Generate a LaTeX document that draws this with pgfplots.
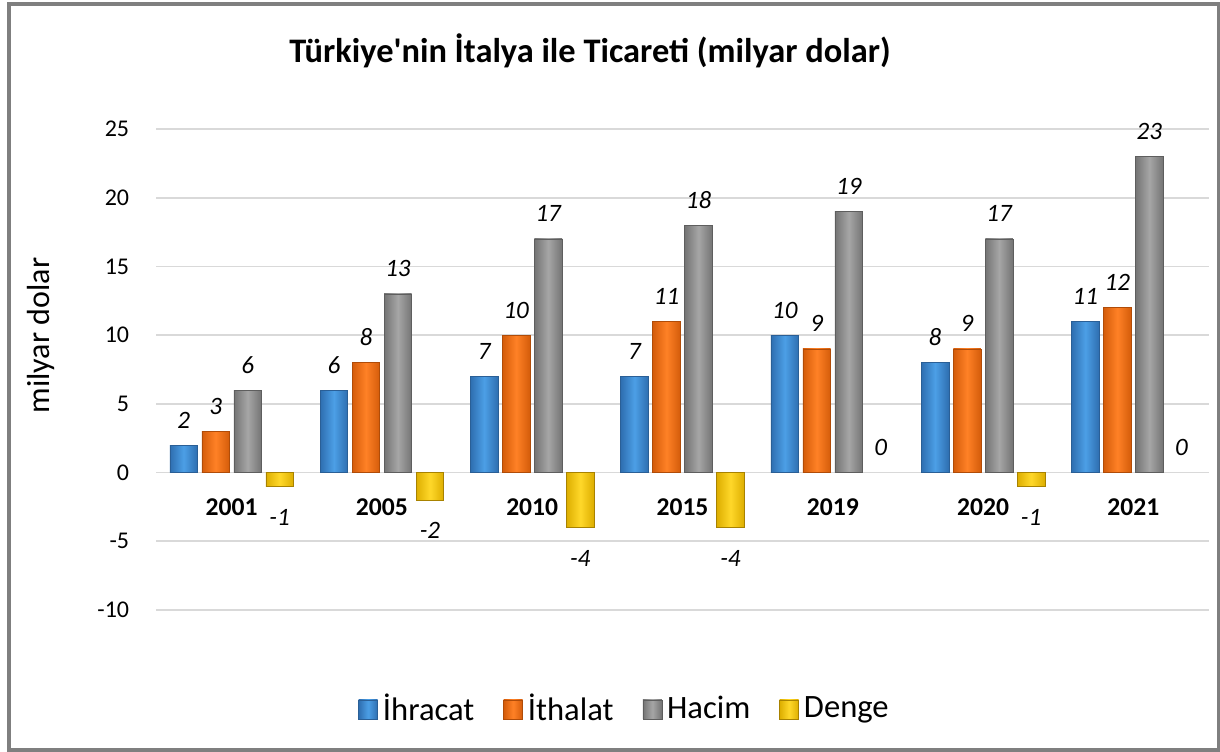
\documentclass[border=0pt]{standalone}
\usepackage{fontspec}
\setmainfont{Carlito}
\usepackage{pgfplots}
\pgfplotsset{compat=1.18}

\definecolor{blueM}{HTML}{4C9FE6}
\definecolor{blueE}{HTML}{2E6EB0}
\definecolor{blueD}{HTML}{2A5F96}
\definecolor{orM}{HTML}{FF8126}
\definecolor{orE}{HTML}{D45C0A}
\definecolor{orD}{HTML}{B04C08}
\definecolor{grM}{HTML}{A6A6A6}
\definecolor{grE}{HTML}{747474}
\definecolor{grD}{HTML}{5E5E5E}
\definecolor{yeM}{HTML}{FFD82A}
\definecolor{yeE}{HTML}{DDAE00}
\definecolor{yeD}{HTML}{A88200}
\definecolor{gridc}{HTML}{D9D9D9}
\definecolor{framec}{HTML}{7F7F7F}

\pgfplotsset{
  lblup/.style={nodes near coords, nodes near coords style={anchor=base, yshift=8.5pt}},
  lbldn/.style={nodes near coords, nodes near coords style={anchor=base, yshift=-19.4pt}},
  ihr/.style={bar shift=-24pt, draw=blueD, line width=0.3pt, left color=blueE, right color=blueE, middle color=blueM, lblup},
  ith/.style={bar shift=-8pt, draw=orD, line width=0.3pt, left color=orE, right color=orE, middle color=orM, lblup},
  hac/.style={bar shift=8pt, draw=grD, line width=0.3pt, left color=grE, right color=grE, middle color=grM, lblup},
  den/.style={bar shift=24pt, draw=yeD, line width=0.3pt, left color=yeE, right color=yeE, middle color=yeM, lbldn},
  denz/.style={bar shift=24pt, draw=none, fill=none, lblup, forget plot},
}

\begin{document}
\begin{tikzpicture}
\useasboundingbox (-78.25pt,-70.5pt) rectangle (531.75pt,305pt);
\fill[white] (-78.25pt,-70.5pt) rectangle (531.75pt,305pt);
\begin{axis}[
  at={(0,0)}, anchor=south west,
  scale only axis, width=526pt, height=240.5pt,
  xmin=-0.5, xmax=6.5, ymin=-10, ymax=25,
  ytick={-10,-5,0,5,10,15,20,25},
  xtick={0,1,2,3,4,5,6},
  xticklabels={2001,2005,2010,2015,2019,2020,2021},
  axis line style={draw=none},
  major tick length=0pt,
  ymajorgrids, grid style={gridc, line width=0.9pt},
  /pgf/number format/assume math mode=true,
  yticklabel style={font=\fontsize{12}{14}\selectfont, anchor=east, inner sep=0pt, xshift=-13.5pt},
  xticklabel style={font=\bfseries\fontsize{12.8}{15}\selectfont, anchor=center, yshift=51.25pt},
  ybar=2.2pt, bar width=13.8pt,
  every node near coord/.append style={font=\itshape\fontsize{12.5}{15}\selectfont, inner sep=0pt, text=black},
  clip=false,
  legend columns=4,
  legend style={draw=none, fill=none, at={(0.4463,-0.2058)}, anchor=center,
    font=\fontsize{16.3}{19}\selectfont,
    nodes={inner xsep=2.5pt, inner ysep=0pt},
    /tikz/every even column/.append style={column sep=12pt}},
  legend cell align=left,
  legend image code/.code={\draw[#1] (0pt,-5pt) rectangle (9.5pt,4.5pt);},
]
% İhracat
\addplot[ihr] coordinates {(0,2)};
\addplot[ihr, forget plot] coordinates {(1,6)};
\addplot[ihr, forget plot] coordinates {(2,7)};
\addplot[ihr, forget plot] coordinates {(3,7)};
\addplot[ihr, forget plot] coordinates {(4,10)};
\addplot[ihr, forget plot] coordinates {(5,8)};
\addplot[ihr, forget plot] coordinates {(6,11)};
% İthalat
\addplot[ith] coordinates {(0,3)};
\addplot[ith, forget plot] coordinates {(1,8)};
\addplot[ith, forget plot] coordinates {(2,10)};
\addplot[ith, forget plot] coordinates {(3,11)};
\addplot[ith, forget plot] coordinates {(4,9)};
\addplot[ith, forget plot] coordinates {(5,9)};
\addplot[ith, forget plot] coordinates {(6,12)};
% Hacim
\addplot[hac] coordinates {(0,6)};
\addplot[hac, forget plot] coordinates {(1,13)};
\addplot[hac, forget plot] coordinates {(2,17)};
\addplot[hac, forget plot] coordinates {(3,18)};
\addplot[hac, forget plot] coordinates {(4,19)};
\addplot[hac, forget plot] coordinates {(5,17)};
\addplot[hac, forget plot] coordinates {(6,23)};
% Denge
\addplot[den] coordinates {(0,-1)};
\addplot[den, forget plot] coordinates {(1,-2)};
\addplot[den, forget plot] coordinates {(2,-4)};
\addplot[den, forget plot] coordinates {(3,-4)};
\addplot[denz] coordinates {(4,0)};
\addplot[den, forget plot] coordinates {(5,-1)};
\addplot[denz] coordinates {(6,0)};
\legend{İhracat, İthalat, Hacim, Denge}
\end{axis}
\node[font=\bfseries\fontsize{17.2}{21}\selectfont, anchor=base] at (216.75pt,273.5pt) {Türkiye\textquotesingle nin İtalya ile Ticareti (milyar dolar)};
\node[rotate=90, anchor=base, font=\fontsize{16}{19}\selectfont] at (-53.25pt,137.25pt) {milyar dolar};
\draw[framec, line width=2pt] (-73.75pt,-70pt) rectangle (531.25pt,303pt);
\end{tikzpicture}
\end{document}
